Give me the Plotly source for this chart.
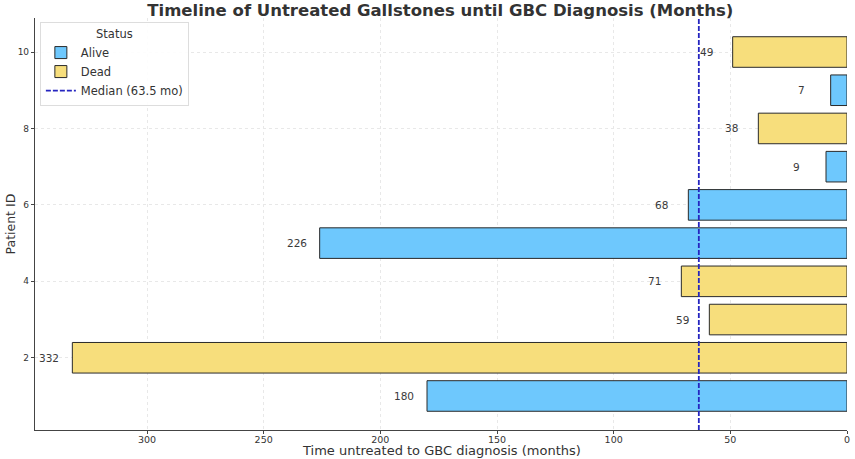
import plotly.graph_objects as go
import numpy as np

patient_ids = [1, 2, 3, 4, 5, 6, 7, 8, 9, 10]
months = [180, 332, 59, 71, 226, 68, 9, 38, 7, 49]
status = ["Alive", "Dead", "Dead", "Dead", "Alive", "Alive", "Alive", "Dead", "Alive", "Dead"]
colors = {"Alive": "#6EC8FD", "Dead": "#F7DE7C"}
median_val = float(np.median(months))

fig = go.Figure()
for s in ["Alive", "Dead"]:
    ys = [p for p, st in zip(patient_ids, status) if st == s]
    xs = [m for m, st in zip(months, status) if st == s]
    fig.add_trace(go.Bar(
        x=xs, y=ys, orientation="h", name=s, width=0.8,
        marker=dict(color=colors[s], line=dict(color="#2a2a2a", width=1)),
    ))

fig.add_trace(go.Scatter(
    x=[median_val, median_val], y=[0.11, 10.89], mode="lines",
    name=f"Median ({median_val:.1f} mo)",
    line=dict(color="#2525c0", width=1.8, dash="5px,2px"),
))

for p, m in zip(patient_ids, months):
    fig.add_annotation(x=m + 15, y=p, text=str(m), showarrow=False,
                       xanchor="left", yanchor="middle",
                       font=dict(size=10.5, color="#3a3a3a", family="DejaVu Sans"))

fig.add_annotation(text="Time untreated to GBC diagnosis (months)", xref="paper", yref="paper",
                   x=0.5, y=0, yshift=-11, xanchor="center", yanchor="top", showarrow=False,
                   font=dict(size=13, color="#333333", family="DejaVu Sans"))
fig.add_annotation(text="Patient ID", xref="paper", yref="paper", textangle=-90,
                   x=0, xshift=-16, y=0.5, xanchor="right", yanchor="middle", showarrow=False,
                   font=dict(size=12.5, color="#333333", family="DejaVu Sans"))

fig.update_layout(
    width=855, height=459,
    margin=dict(l=35, r=8, t=18, b=29),
    paper_bgcolor="white", plot_bgcolor="white",
    font=dict(family="DejaVu Sans", color="#333333"),
    title=dict(text="<b>Timeline of Untreated Gallstones until GBC Diagnosis (Months)</b>",
               x=0.515, xanchor="center", y=0.99, yanchor="top",
               font=dict(size=16.5, color="#333333")),
    barmode="overlay",
    showlegend=True,
    legend=dict(title=dict(text="Status", side="top center", font=dict(size=11.5)),
                x=0.006, y=0.99, xanchor="left", yanchor="top",
                bgcolor="rgba(255,255,255,0.9)", bordercolor="#dddddd", borderwidth=1,
                font=dict(size=11.5), tracegroupgap=0, itemwidth=30),
)
fig.update_xaxes(range=[348, 0], tickvals=[0, 50, 100, 150, 200, 250, 300],
                 showgrid=True, gridcolor="#e8e8e8", griddash="dot", gridwidth=1,
                 showline=True, linecolor="#444444", linewidth=1.2,
                 ticks="outside", ticklen=3, tickcolor="#444444",
                 tickfont=dict(size=9.5), zeroline=False, ticklabeloverflow="allow",
                 ticklabelstandoff=-3, automargin=False)
fig.update_yaxes(range=[0.11, 10.89], tickvals=[2, 4, 6, 8, 10],
                 showgrid=True, gridcolor="#e8e8e8", griddash="dot", gridwidth=1,
                 showline=True, linecolor="#444444", linewidth=1.2,
                 ticks="outside", ticklen=3, tickcolor="#444444",
                 tickfont=dict(size=9), zeroline=False, automargin=False)
fig.write_html("out.html", config={"displayModeBar": False},
               post_script="document.body.style.margin='0';document.body.style.overflow='hidden';")
